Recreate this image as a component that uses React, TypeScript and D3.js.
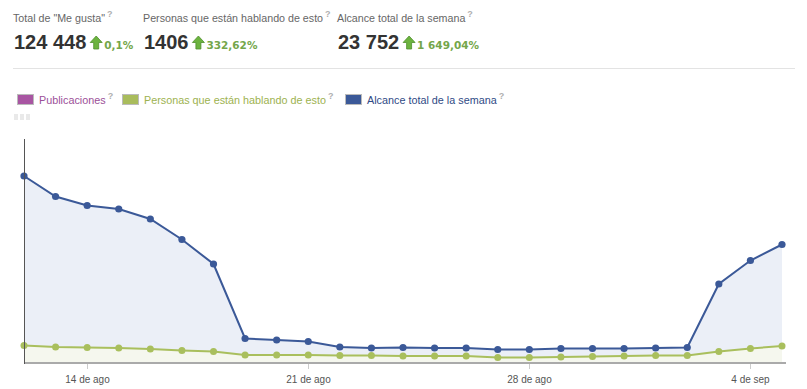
import React from 'react'
import * as d3 from 'd3'

const startDay = new Date(2012, 7, 12)
const days = d3.range(25).map(i => d3.timeDay.offset(startDay, i))

// weekly reach (blue)
const alcance = [37400, 33300, 31500, 30800, 28800, 24700, 19800, 4900, 4600, 4300, 3200, 3000, 3100,
  3000, 3000, 2700, 2700, 2900, 2900, 2900, 3000, 3100, 15800, 20500, 23700]
// people talking about this (green)
const hablando = [3500, 3200, 3100, 3000, 2800, 2500, 2300, 1600, 1600, 1600, 1500, 1500, 1400,
  1400, 1400, 1100, 1100, 1200, 1300, 1400, 1500, 1500, 2300, 2900, 3400]

const tickDates = [new Date(2012, 7, 14), new Date(2012, 7, 21), new Date(2012, 7, 28), new Date(2012, 8, 4)]
const tickLabels = ['14 de ago', '21 de ago', '28 de ago', '4 de sep']

const stats = [
  { label: 'Total de "Me gusta"', value: '124 448', change: '0,1%', x: 13 },
  { label: 'Personas que están hablando de esto', value: '1406', change: '332,62%', x: 143 },
  { label: 'Alcance total de la semana', value: '23 752', change: '1 649,04%', x: 337 },
]

const legendItems = [
  { label: 'Publicaciones', color: '#a855a2', text: '#9b4f98', x: 17 },
  { label: 'Personas que están hablando de esto', color: '#a9bc5c', text: '#9db24f', x: 122 },
  { label: 'Alcance total de la semana', color: '#3b5998', text: '#2f4a85', x: 345 },
]

const font = '"Liberation Sans", Arial, sans-serif'

const Arrow = ({ x, y }: { x: number; y: number }) => (
  <path
    transform={`translate(${x},${y})`}
    d="M6,0 L12,6.5 L8.5,6.5 L8.5,13 L3.5,13 L3.5,6.5 L0,6.5 Z"
    fill="#6cb33f"
    stroke="#4f8f2c"
    strokeWidth={0.8}
  />
)

export default function App() {
  const x = d3.scaleTime().domain([days[0], days[days.length - 1]]).range([24, 782])
  const y = d3.scaleLinear().domain([0, 44800]).range([363, 139])

  const area = d3.area<number>()
    .x((_, i) => x(days[i]))
    .y0(y(0))
    .y1(d => y(d))
  const line = d3.line<number>()
    .x((_, i) => x(days[i]))
    .y(d => y(d))

  // rough width of the big numbers, to place the arrows
  const numW = (s: string) => s.replace(/ /g, '').length * 11.1 + (s.split(' ').length - 1) * 5.6

  return (
    <svg width={807} height={389} style={{ position: 'absolute', left: 0, top: 0, background: '#fff' }}
      fontFamily={font}>
      {stats.map((s, i) => (
        <g key={i}>
          <text x={s.x} y={22} fontSize={10.7} fill="#666">
            {s.label}
            <tspan dx={2} dy={-5} fontSize={9} fill="#b0b0b0" fontWeight="bold">?</tspan>
          </text>
          <text x={s.x + 1} y={49} fontSize={20} fontWeight="bold" fill="#333">{s.value}</text>
          <Arrow x={s.x + 1 + numW(s.value) + 4} y={36} />
          <text x={s.x + 1 + numW(s.value) + 18} y={49} fontSize={10.5} fontWeight="bold" fill="#74a64a"
            fontFamily='"DejaVu Sans", sans-serif'>{s.change}</text>
        </g>
      ))}
      <line x1={13} x2={795} y1={68.5} y2={68.5} stroke="#e3e3e3" />

      {legendItems.map((l, i) => (
        <g key={i}>
          <rect x={l.x + 0.5} y={94.5} width={16} height={10} fill={l.color} stroke="#bbb" />
          <text x={l.x + 22} y={104} fontSize={10.8} fill={l.text}>
            {l.label}
            <tspan dx={2} dy={-5} fontSize={9} fill="#b0b0b0" fontWeight="bold">?</tspan>
          </text>
        </g>
      ))}
      {[0, 1, 2].map(i => (
        <rect key={i} x={14 + i * 6} y={114} width={4} height={6} fill="#e9e9e9" />
      ))}

      <path d={area(alcance) ?? ''} fill="#ebeff7" />
      <path d={area(hablando) ?? ''} fill="#f5f7ee" />

      <path d={line(hablando) ?? ''} fill="none" stroke="#a9bf5d" strokeWidth={2} />
      {hablando.map((d, i) => (
        <circle key={i} cx={x(days[i])} cy={y(d)} r={3.5} fill="#a9bf5d" />
      ))}
      <path d={line(alcance) ?? ''} fill="none" stroke="#3b5998" strokeWidth={2} />
      {alcance.map((d, i) => (
        <circle key={i} cx={x(days[i])} cy={y(d)} r={3.6} fill="#3b5998" />
      ))}

      <line x1={24} x2={786} y1={363} y2={363} stroke="#aaa" strokeWidth={2} />
      <line x1={24.5} x2={24.5} y1={139} y2={364} stroke="#555" />
      {tickDates.map((t, i) => (
        <g key={i} transform={`translate(${Math.round(x(t)) + 0.5},0)`}>
          <line y1={364} y2={369} stroke="#ccc" />
          <text y={383} textAnchor="middle" fontSize={10} fill="#555">{tickLabels[i]}</text>
        </g>
      ))}
    </svg>
  )
}
